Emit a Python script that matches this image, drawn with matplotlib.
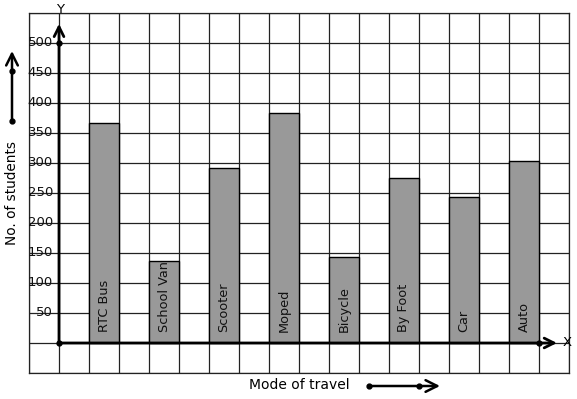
import matplotlib
matplotlib.use('Agg')
from matplotlib import pyplot as plt
import numpy as np

# datos
modos = ['RTC Bus', 'School Van', 'Scooter', 'Moped', 'Bicycle', 'By Foot', 'Car', 'Auto']
alumnos = [367, 136, 291, 383, 143, 275, 243, 304]
marcas_y = [50, 100, 150, 200, 250, 300, 350, 400, 450, 500]

W, H = 577, 399
fig = plt.figure(figsize=(W/100, H/100), dpi=100)
ax = fig.add_axes([29/W, (H-373)/H, 540/W, 360/H])
ax.set_xlim(-1, 17)
ax.set_ylim(-50, 550)

# hoja cuadriculada
ax.set_xticks(np.arange(-1, 18))
ax.set_yticks(np.arange(-50, 551, 50))
ax.grid(True, color='#222222', lw=0.9)
ax.tick_params(length=0, labelbottom=False, labelleft=False)
for s in ax.spines.values():
    s.set_color('#222222')
    s.set_linewidth(0.9)
ax.set_axisbelow(True)

# barras (cada una ocupa una celda, con una celda vacia entre ellas)
pos = np.arange(len(modos))*2 + 1.5
ax.bar(pos, alumnos, width=1, color='#999999', edgecolor='black', lw=1, zorder=3)
for x, nombre in zip(pos, modos):
    ax.text(x, 18, nombre, rotation=90, ha='center', va='bottom', fontsize=9.3, color='#111111', zorder=4)

# etiquetas del eje y
for v in marcas_y:
    ax.text(-0.2, v, str(v), ha='right', va='center', fontsize=9.5, color='#111111', zorder=4)

# ejes con flecha
flecha = dict(arrowstyle='->,head_length=0.7,head_width=0.35', lw=2, color='black', shrinkA=0, shrinkB=0)
ax.annotate('', xy=(0, 532), xytext=(0, 0), arrowprops=flecha, zorder=5)
ax.annotate('', xy=(16.6, 0), xytext=(0, 0), arrowprops=flecha, zorder=5)
ax.plot([0, 0, 16], [0, 500, 0], 'ko', ms=3.5, zorder=6)
ax.text(0.05, 555, 'Y', ha='center', va='center', fontsize=9.5, clip_on=False)
ax.text(16.95, 0, 'X', ha='center', va='center', fontsize=9.5, clip_on=False)

# titulos de ejes con sus flechitas
fig.text(12/W, 1-193/H, 'No. of students', rotation=90, ha='center', va='center', fontsize=9.8)
fig.text(299/W, 1-385/H, 'Mode of travel', ha='center', va='center', fontsize=10)
fl2 = dict(arrowstyle='->,head_length=0.7,head_width=0.35', lw=1.8, color='black',
           shrinkA=0, shrinkB=0, mutation_scale=12)
fig.add_artist(matplotlib.patches.FancyArrowPatch((12/W, 1-121/H), (12/W, 1-51/H), transform=fig.transFigure, **fl2))
fig.add_artist(matplotlib.patches.FancyArrowPatch((369/W, 1-386/H), (440/W, 1-386/H), transform=fig.transFigure, **fl2))
fig.add_artist(plt.Line2D([12/W, 12/W], [1-121/H, 1-71/H], marker='o', ms=3.5, lw=0, color='black', transform=fig.transFigure))
fig.add_artist(plt.Line2D([369/W, 419/W], [1-386/H, 1-386/H], marker='o', ms=3.5, lw=0, color='black', transform=fig.transFigure))

fig.savefig('out.png', dpi=100)
